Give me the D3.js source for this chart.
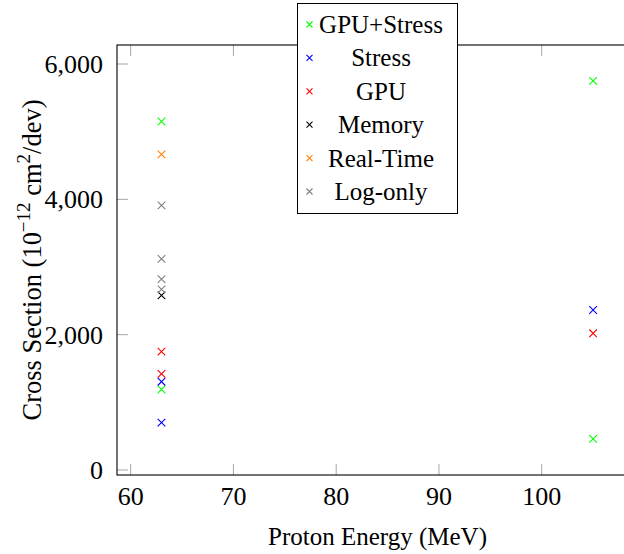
<!DOCTYPE html>
<html>
<head>
<meta charset="utf-8">
<script src="https://cdn.jsdelivr.net/npm/d3@7/dist/d3.min.js"></script>
<style>
  html, body { margin: 0; padding: 0; background: #fff; }
  svg { display: block; }
  text { font-family: "Liberation Serif", "Times New Roman", serif; fill: #000; }
</style>
</head>
<body>
<svg id="chart" width="624" height="554"></svg>
<script>
// ---- data ----
const seriesNames = ["GPU+Stress", "Stress", "GPU", "Memory", "Real-Time", "Log-only"];
const seriesColors = ["#00ff00", "#0000ff", "#ff0000", "#000000", "#ff8000", "#808080"];
const gpuStress = [[63, 5150], [63, 1190], [105, 5750], [105, 460]];
const stress    = [[63, 1305], [63, 700], [105, 2365]];
const gpu       = [[63, 1750], [63, 1420], [105, 2020]];
const memory    = [[63, 2580]];
const realTime  = [[63, 4665]];
const logOnly   = [[63, 3910], [63, 3120], [63, 2820], [63, 2670]];
const xTicks = [60, 70, 80, 90, 100, 110];
const yTicks = [0, 2000, 4000, 6000];

const seriesData = [gpuStress, stress, gpu, memory, realTime, logOnly];

// ---- layout ----
const svg = d3.select("#chart");
const L = 117, R = 638, T = 45, B = 475;
const x = d3.scaleLinear().domain([58.67, 109.37]).range([L, R]);
const y = d3.scaleLinear().domain([-74, 6281]).range([B, T]);
const fmt = d3.format(",");

// ticks (inward)
const tickLen = 11;
const tickColor = "#a6a6a6";
const g = svg.append("g");
const visX = xTicks.filter(v => x(v) <= 624);
g.selectAll(".xtb").data(visX).enter().append("line")
  .attr("x1", d => x(d)).attr("x2", d => x(d))
  .attr("y1", B).attr("y2", B - tickLen)
  .attr("stroke", tickColor).attr("stroke-width", 1);
g.selectAll(".xtt").data(visX).enter().append("line")
  .attr("x1", d => x(d)).attr("x2", d => x(d))
  .attr("y1", T).attr("y2", T + tickLen)
  .attr("stroke", tickColor).attr("stroke-width", 1);
g.selectAll(".ytl").data(yTicks).enter().append("line")
  .attr("x1", L).attr("x2", L + tickLen)
  .attr("y1", d => y(d)).attr("y2", d => y(d))
  .attr("stroke", tickColor).attr("stroke-width", 1);

// frame
svg.append("rect").attr("x", L).attr("y", T).attr("width", R - L).attr("height", B - T)
  .attr("fill", "none").attr("stroke", "#000").attr("stroke-width", 1.1);

// tick labels
svg.selectAll(".xl").data(visX).enter().append("text")
  .attr("x", d => x(d)).attr("y", 505)
  .attr("text-anchor", "middle").attr("font-size", 26)
  .text(d => d);
svg.selectAll(".yl").data(yTicks).enter().append("text")
  .attr("x", 103).attr("y", d => y(d) + 9)
  .attr("text-anchor", "end").attr("font-size", 26)
  .text(d => fmt(d));

// axis titles
svg.append("text").attr("x", 377.5).attr("y", 545)
  .attr("text-anchor", "middle").attr("font-size", 25)
  .text("Proton Energy (MeV)");

const yt = svg.append("text")
  .attr("transform", "translate(41,260) rotate(-90)")
  .attr("text-anchor", "middle").attr("font-size", 26.5);
yt.append("tspan").text("Cross Section (10");
yt.append("tspan").attr("font-size", 19).attr("dy", -11).text("\u221212");
yt.append("tspan").attr("dy", 11).text(" cm");
yt.append("tspan").attr("font-size", 19).attr("dy", -11).text("2");
yt.append("tspan").attr("dy", 11).text("/dev)");

// markers
function cross(sel, cx, cy, s, color) {
  sel.append("path")
    .attr("d", `M${cx - s},${cy - s}L${cx + s},${cy + s}M${cx - s},${cy + s}L${cx + s},${cy - s}`)
    .attr("stroke", color).attr("stroke-width", 1.1).attr("fill", "none");
}
const mg = svg.append("g");
seriesData.forEach((pts, i) => {
  pts.forEach(p => cross(mg, x(p[0]), y(p[1]), 3.8, seriesColors[i]));
});

// legend
const lg = svg.append("g");
lg.append("rect").attr("x", 297.5).attr("y", 3.5).attr("width", 160).attr("height", 210)
  .attr("fill", "#fff").attr("stroke", "#000").attr("stroke-width", 1);
const rowY = d3.scaleLinear().domain([0, 5]).range([24.5, 191.5]);
seriesNames.forEach((name, i) => {
  const cy = rowY(i);
  cross(lg, 309.5, cy, 3, seriesColors[i]);
  lg.append("text").attr("x", 381).attr("y", cy + 8.5)
    .attr("text-anchor", "middle").attr("font-size", 25).text(name);
});
</script>
</body>
</html>
